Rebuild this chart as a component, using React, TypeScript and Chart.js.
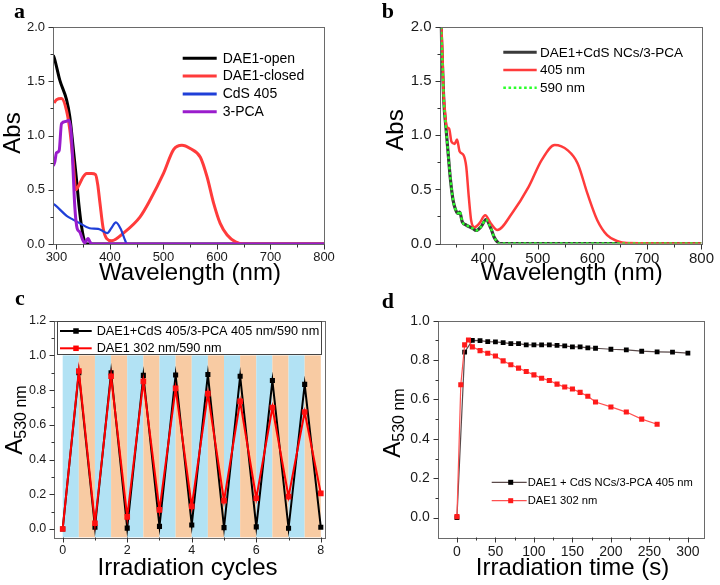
import React, { useEffect, useRef } from "react";
import { Chart, registerables } from "chart.js";
Chart.register(...registerables);

const FONT = "'Liberation Sans', Arial, Helvetica, sans-serif";
const SERIF = "'Liberation Serif', 'Times New Roman', serif";

// ---------- Panel a data ----------
const aOpenWl = [294, 296.8, 306.2, 318.8, 325, 331, 337.5, 342.4, 346.9, 353, 358.7, 800];
const aOpenAbs = [1.74, 1.7, 1.51, 1.33, 1.17, 0.9, 0.59, 0.34, 0.16, 0.02, 0, 0];
const aClosedWl = [295.5, 300, 309.4, 318.8, 325, 331, 336.2, 343.7, 350, 356.3, 365.7, 373, 377, 381.2, 387.4, 393.8, 403.2, 425, 456.3, 475, 500, 518.8, 534.5, 550, 568.9, 581.4, 593.8, 606, 619, 634.6, 650, 800];
const aClosedAbs = [1.3, 1.33, 1.34, 1.23, 1.05, 0.77, 0.5, 0.56, 0.62, 0.65, 0.65, 0.64, 0.55, 0.38, 0.14, 0.05, 0.03, 0.1, 0.25, 0.405, 0.65, 0.87, 0.91, 0.88, 0.8, 0.62, 0.375, 0.19, 0.083, 0.02, 0, 0];
const aCdsWl = [294, 297, 319, 331, 344, 362, 378, 395, 403, 411, 420, 427, 432, 800];
const aCdsAbs = [0.37, 0.36, 0.26, 0.225, 0.19, 0.145, 0.14, 0.1, 0.15, 0.2, 0.14, 0.05, 0, 0];
const aPcaWl = [294, 297, 300, 305, 309.4, 317.4, 323.6, 328, 331, 334.3, 338.6, 343.7, 348.8, 353, 357, 359.3, 362.5, 366, 800];
const aPcaAbs = [0.72, 0.76, 0.84, 0.86, 1.11, 1.13, 1.14, 0.99, 0.68, 0.34, 0.145, 0.11, 0.04, 0.01, 0.04, 0.05, 0.02, 0, 0];

// ---------- Panel b data ----------
const bInitWl = [322, 325.6, 328, 331.5, 335.7, 340, 344.7, 349.5, 353.7, 356.8, 361.6, 368.8, 380.7, 386.8, 395.9, 404.9, 414, 419.8, 425.8, 430, 800];
const bInitAbs = [2.1, 1.6, 1.29, 1.08, 0.83, 0.585, 0.4, 0.31, 0.277, 0.29, 0.2, 0.17, 0.14, 0.12, 0.155, 0.22, 0.14, 0.06, 0.015, 0, 0];
const b405Wl = [322.5, 325.6, 326.7, 329.7, 332.8, 337.5, 341.8, 347.7, 351.9, 356.8, 364, 368.8, 373.5, 377.8, 383.8, 392.8, 403.6, 413.9, 425.8, 452.8, 482.9, 507, 531, 555, 573, 591, 609, 627, 645, 663, 800];
const b405Abs = [2.1, 1.69, 1.45, 1.23, 1.08, 1.06, 0.94, 0.92, 0.96, 0.85, 0.815, 0.71, 0.43, 0.215, 0.15, 0.185, 0.26, 0.185, 0.125, 0.28, 0.52, 0.77, 0.91, 0.86, 0.74, 0.46, 0.215, 0.077, 0.024, 0.005, 0];
const b590Wl = [322, 325.6, 328, 331.5, 335.7, 340, 344.7, 349.5, 353.7, 356.8, 361.6, 368.8, 380.7, 386.8, 395.9, 404.9, 414, 419.8, 425.8, 430, 800];
const b590Abs = [2.1, 1.61, 1.3, 1.08, 0.83, 0.59, 0.4, 0.31, 0.28, 0.3, 0.2, 0.17, 0.14, 0.12, 0.155, 0.22, 0.14, 0.06, 0.015, 0, 0];

// ---------- Panel c data ----------
const cCycles = [0, 0.5, 1, 1.5, 2, 2.5, 3, 3.5, 4, 4.5, 5, 5.5, 6, 6.5, 7, 7.5, 8];
const cCdsPca = [0.0, 0.9, 0.01, 0.9, 0.005, 0.885, 0.015, 0.887, 0.023, 0.89, 0.008, 0.88, 0.012, 0.855, 0.004, 0.833, 0.01];
const cDae = [0.0, 0.91, 0.033, 0.88, 0.07, 0.85, 0.11, 0.81, 0.13, 0.78, 0.163, 0.735, 0.177, 0.7, 0.186, 0.674, 0.205];

// ---------- Panel d data ----------
const dTimeBlack = [0, 10, 20, 30, 40, 50, 60, 70, 80, 90, 100, 110, 120, 130, 140, 150, 160, 170, 180, 200, 220, 240, 260, 280, 300];
const dCdsPca = [0.0, 0.84, 0.9, 0.899, 0.894, 0.892, 0.889, 0.884, 0.884, 0.877, 0.877, 0.877, 0.877, 0.875, 0.872, 0.867, 0.867, 0.862, 0.86, 0.855, 0.852, 0.845, 0.842, 0.84, 0.835];
const dTimeRed = [0, 5, 10, 15, 20, 30, 40, 50, 60, 70, 80, 90, 100, 110, 120, 130, 140, 150, 160, 170, 180, 200, 220, 240, 260];
const dDae = [0.005, 0.675, 0.877, 0.902, 0.867, 0.848, 0.835, 0.821, 0.796, 0.776, 0.759, 0.742, 0.725, 0.708, 0.696, 0.678, 0.663, 0.653, 0.636, 0.616, 0.587, 0.562, 0.536, 0.5, 0.474];

// tick values
const aXMajor = [300, 400, 500, 600, 700, 800];
const aXMinor = [350, 450, 550, 650, 750];
const absMajor = [0, 0.5, 1, 1.5, 2];
const absMinor = [0.25, 0.75, 1.25, 1.75];
const bXMajor = [400, 500, 600, 700, 800];
const bXMinor = [350, 450, 550, 650, 750];
const cXMajor = [0, 2, 4, 6, 8];
const cXMinor = [1, 3, 5, 7];
const cYMajor = [0, 0.2, 0.4, 0.6, 0.8, 1.0, 1.2];
const cYMinor = [0.1, 0.3, 0.5, 0.7, 0.9, 1.1];
const dXMajor = [0, 50, 100, 150, 200, 250, 300];
const dXMinor = [25, 75, 125, 175, 225, 275];
const dYMajor = [0, 0.2, 0.4, 0.6, 0.8, 1.0];
const dYMinor = [0.1, 0.3, 0.5, 0.7, 0.9];

const pts = (xs: number[], ys: number[]) => xs.map((x, i) => ({ x, y: ys[i] }));

type LegendItem = { label: string; color: string; width: number; dash?: number[]; marker?: string };
type Panel = {
  left: number; top: number; w: number; h: number;
  area: { l: number; t: number; r: number; b: number };
  x: { min: number; max: number; majors: number[]; minors: number[]; dec: number; font: number; pad: number };
  y: { min: number; max: number; majors: number[]; minors: number[]; dec: number; font: number; pad: number };
  letter: { text: string; x: number; y: number };
  xTitle: { text: string; x: number; y: number };
  yTitle: { parts: { t: string; size: number; dy: number }[]; x: number; y: number };
  legend: { items: LegendItem[]; x0: number; x1: number; mx?: number; ms?: number; tx: number; ys: number[]; font: number; box?: [number, number, number, number] };
  bands?: boolean;
  datasets: any[];
};

const spectrum = (label: string, xs: number[], ys: number[], color: string, width: number, dash?: number[]) => ({
  label, data: pts(xs, ys), borderColor: color, borderWidth: width, borderDash: dash || [],
  pointRadius: 0, cubicInterpolationMode: "monotone", fill: false,
});
const markers = (label: string, xs: number[], ys: number[], line: string, mark: string, width: number, r: number) => ({
  label, data: pts(xs, ys), borderColor: line, borderWidth: width, pointStyle: "rect", pointRadius: r,
  pointBackgroundColor: mark, pointBorderColor: mark, pointBorderWidth: 0, tension: 0, fill: false,
});

const BLUE_BAND = "rgb(178, 226, 244)";
const ORANGE_BAND = "rgb(248, 203, 163)";
const GREEN = "#2bff2b";

const panels: Panel[] = [
  {
    left: 0, top: 0, w: 360, h: 290,
    area: { l: 53, t: 27, r: 324, b: 244 },
    x: { min: 293.5, max: 800, majors: aXMajor, minors: aXMinor, dec: 0, font: 13, pad: 6 },
    y: { min: 0, max: 2, majors: absMajor, minors: absMinor, dec: 1, font: 13, pad: 8 },
    letter: { text: "a", x: 14, y: 18 },
    xTitle: { text: "Wavelength (nm)", x: 190, y: 280 },
    yTitle: { parts: [{ t: "Abs", size: 24, dy: 0 }], x: 20, y: 133 },
    legend: {
      items: [
        { label: "DAE1-open", color: "#000000", width: 3 },
        { label: "DAE1-closed", color: "#ff3b3b", width: 3 },
        { label: "CdS 405", color: "#1f3fd8", width: 3 },
        { label: "3-PCA", color: "#9a1ccc", width: 3 },
      ],
      x0: 182.7, x1: 216.7, tx: 222.7, ys: [58.3, 76, 94, 111.7], font: 14,
    },
    datasets: [
      spectrum("DAE1-open", aOpenWl, aOpenAbs, "#000000", 3),
      spectrum("DAE1-closed", aClosedWl, aClosedAbs, "#ff3b3b", 3),
      spectrum("CdS 405", aCdsWl, aCdsAbs, "#1f3fd8", 2.2),
      spectrum("3-PCA", aPcaWl, aPcaAbs, "#9a1ccc", 3),
    ],
  },
  {
    left: 360, top: 0, w: 360, h: 290,
    area: { l: 79.6, t: 27, r: 347.3, b: 243.5 },
    x: { min: 320, max: 800, majors: bXMajor, minors: bXMinor, dec: 0, font: 15, pad: 6 },
    y: { min: 0, max: 2, majors: absMajor, minors: absMinor, dec: 1, font: 15, pad: 8 },
    letter: { text: "b", x: 21.7, y: 18.3 },
    xTitle: { text: "Wavelength (nm)", x: 211.7, y: 280 },
    yTitle: { parts: [{ t: "Abs", size: 24, dy: 0 }], x: 43.3, y: 130 },
    legend: {
      items: [
        { label: "DAE1+CdS NCs/3-PCA", color: "#3a3a3a", width: 3 },
        { label: "405 nm", color: "#ff3b3b", width: 2.5 },
        { label: "590 nm", color: GREEN, width: 2.6, dash: [2.6, 2.6] },
      ],
      x0: 143.3, x1: 176.7, tx: 180, ys: [52.3, 70, 87.7], font: 13.5,
    },
    datasets: [
      spectrum("DAE1+CdS NCs/3-PCA", bInitWl, bInitAbs, "#3a3a3a", 3.2),
      spectrum("405 nm", b405Wl, b405Abs, "#ff3b3b", 2.5),
      spectrum("590 nm", b590Wl, b590Abs, GREEN, 2.4, [2.6, 2.6]),
    ],
  },
  {
    left: 0, top: 290, w: 360, h: 295,
    area: { l: 54.3, t: 30.7, r: 325, b: 247.3 },
    x: { min: -0.26, max: 8.13, majors: cXMajor, minors: cXMinor, dec: 0, font: 12.5, pad: 6 },
    y: { min: -0.048, max: 1.2, majors: cYMajor, minors: cYMinor, dec: 1, font: 12.5, pad: 8 },
    letter: { text: "c", x: 15, y: 15 },
    xTitle: { text: "Irradiation cycles", x: 187.5, y: 285 },
    yTitle: { parts: [{ t: "A", size: 24, dy: 0 }, { t: "530 nm", size: 16, dy: 4 }], x: 21.7, y: 420 - 290 },
    legend: {
      items: [
        { label: "DAE1+CdS 405/3-PCA 405 nm/590 nm", color: "#000000", width: 2, marker: "#000000" },
        { label: "DAE1 302 nm/590 nm", color: "#ff0000", width: 2, marker: "#ff0000" },
      ],
      x0: 60, x1: 91.7, mx: 76, ms: 5.5, tx: 96.7, ys: [41, 58.3], font: 12.7,
      box: [57.3, 30.7, 321.7, 63.3],
    },
    bands: true,
    datasets: [
      markers("DAE1+CdS 405/3-PCA 405 nm/590 nm", cCycles, cCdsPca, "#000000", "#000000", 2, 3.6),
      markers("DAE1 302 nm/590 nm", cCycles, cDae, "#ff0000", "#ff1010", 2, 4.0),
    ],
  },
  {
    left: 360, top: 290, w: 360, h: 295,
    area: { l: 77.7, t: 30.7, r: 343.3, b: 247.3 },
    x: { min: -25, max: 320, majors: dXMajor, minors: dXMinor, dec: 0, font: 14, pad: 6 },
    y: { min: -0.1, max: 1.0, majors: dYMajor, minors: dYMinor, dec: 1, font: 14, pad: 8 },
    letter: { text: "d", x: 21.7, y: 18.3 },
    xTitle: { text: "Irradiation time (s)", x: 212.5, y: 285 },
    yTitle: { parts: [{ t: "A", size: 24, dy: 0 }, { t: "530 nm", size: 16, dy: 4 }], x: 40, y: 423 - 290 },
    legend: {
      items: [
        { label: "DAE1 + CdS NCs/3-PCA 405 nm", color: "#5a4a4a", width: 1.2, marker: "#000000" },
        { label: "DAE1 302 nm", color: "#ff5050", width: 1.2, marker: "#ff1a1a" },
      ],
      x0: 131.7, x1: 166.7, mx: 150.7, ms: 5, tx: 167.7, ys: [192.3, 210.7], font: 11.2,
    },
    datasets: [
      markers("DAE1 + CdS NCs/3-PCA 405 nm", dTimeBlack, dCdsPca, "#5a4a4a", "#000000", 1.2, 3.4),
      markers("DAE1 302 nm", dTimeRed, dDae, "#ff5050", "#ff1a1a", 1.2, 3.6),
    ],
  },
];

function makePlugin(p: Panel) {
  return {
    id: "decor",
    beforeDatasetsDraw(chart: any) {
      if (!p.bands) return;
      const ctx = chart.ctx;
      const xs = chart.scales.x;
      const ys = chart.scales.y;
      const a = chart.chartArea;
      ctx.save();
      for (let i = 0; i < 16; i++) {
        const x0 = xs.getPixelForValue(i * 0.5);
        const x1 = xs.getPixelForValue((i + 1) * 0.5);
        ctx.fillStyle = i % 2 === 0 ? BLUE_BAND : ORANGE_BAND;
        const yTop = ys.getPixelForValue(1.0);
        ctx.fillRect(x0, yTop, x1 - x0, a.bottom - yTop);
      }
      ctx.restore();
    },
    afterDraw(chart: any) {
      const ctx = chart.ctx;
      const a = chart.chartArea;
      const xs = chart.scales.x;
      const ys = chart.scales.y;
      ctx.save();
      // frame
      ctx.strokeStyle = "#6a6a6a";
      ctx.lineWidth = 1;
      ctx.strokeRect(Math.round(a.left) + 0.5, Math.round(a.top) + 0.5, Math.round(a.right - a.left), Math.round(a.bottom - a.top));
      // ticks
      ctx.strokeStyle = "#333";
      ctx.beginPath();
      const bottom = Math.round(a.bottom) + 0.5;
      const left = Math.round(a.left) + 0.5;
      for (const v of p.x.majors) { const px = Math.round(xs.getPixelForValue(v)) + 0.5; ctx.moveTo(px, bottom); ctx.lineTo(px, bottom + 5); }
      for (const v of p.x.minors) { const px = Math.round(xs.getPixelForValue(v)) + 0.5; ctx.moveTo(px, bottom); ctx.lineTo(px, bottom + 3); }
      for (const v of p.y.majors) { const py = Math.round(ys.getPixelForValue(v)) + 0.5; ctx.moveTo(left, py); ctx.lineTo(left - 5, py); }
      for (const v of p.y.minors) { const py = Math.round(ys.getPixelForValue(v)) + 0.5; ctx.moveTo(left, py); ctx.lineTo(left - 3, py); }
      ctx.stroke();
      // titles
      ctx.fillStyle = "#000";
      ctx.font = `24px ${FONT}`;
      ctx.textAlign = "center";
      ctx.textBaseline = "alphabetic";
      ctx.fillText(p.xTitle.text, p.xTitle.x, p.xTitle.y);
      // y title rotated
      ctx.save();
      ctx.translate(p.yTitle.x, p.yTitle.y);
      ctx.rotate(-Math.PI / 2);
      ctx.textAlign = "left";
      let total = 0;
      const widths = p.yTitle.parts.map((pt) => { ctx.font = `${pt.size}px ${FONT}`; const w = ctx.measureText(pt.t).width; total += w; return w; });
      let u = -total / 2;
      p.yTitle.parts.forEach((pt, i) => { ctx.font = `${pt.size}px ${FONT}`; ctx.fillText(pt.t, u, pt.dy); u += widths[i]; });
      ctx.restore();
      // letter
      ctx.font = `bold 22px ${SERIF}`;
      ctx.textAlign = "left";
      ctx.fillText(p.letter.text, p.letter.x, p.letter.y);
      // legend
      const L = p.legend;
      if (L.box) {
        const [x0, y0, x1, y1] = L.box;
        ctx.fillStyle = "#fff";
        ctx.fillRect(x0, y0, x1 - x0, y1 - y0);
        ctx.strokeStyle = "#444";
        ctx.lineWidth = 1;
        ctx.strokeRect(Math.round(x0) + 0.5, Math.round(y0) + 0.5, Math.round(x1 - x0), Math.round(y1 - y0));
      }
      L.items.forEach((it, i) => {
        const y = L.ys[i];
        ctx.strokeStyle = it.color;
        ctx.lineWidth = it.width;
        ctx.setLineDash(it.dash || []);
        ctx.beginPath();
        ctx.moveTo(L.x0, y);
        ctx.lineTo(L.x1, y);
        ctx.stroke();
        ctx.setLineDash([]);
        if (it.marker && L.mx !== undefined && L.ms) {
          ctx.fillStyle = it.marker;
          ctx.fillRect(L.mx - L.ms / 2, y - L.ms / 2, L.ms, L.ms);
        }
        ctx.fillStyle = "#000";
        ctx.font = `${L.font}px ${FONT}`;
        ctx.textBaseline = "middle";
        ctx.textAlign = "left";
        ctx.fillText(it.label, L.tx, y + 0.5);
      });
      ctx.restore();
    },
  };
}

function buildConfig(p: Panel): any {
  const axis = (ax: Panel["x"], isX: boolean) => ({
    type: "linear",
    min: ax.min,
    max: ax.max,
    afterBuildTicks: (s: any) => { s.ticks = ax.majors.map((v) => ({ value: v })); },
    afterFit: (s: any) => {
      if (isX) s.height = p.h - p.area.b; else s.width = p.area.l;
    },
    grid: { display: false, drawTicks: false, drawOnChartArea: false },
    border: { display: false },
    ticks: {
      autoSkip: false, maxRotation: 0, minRotation: 0, padding: ax.pad,
      color: "#1a1a1a", font: { family: FONT, size: ax.font },
      callback: (v: any) => Number(v).toFixed(ax.dec),
    },
  });
  // later datasets are drawn on top (as in the reference)
  const datasets = p.datasets.map((d, i) => ({ ...d, order: -i }));
  return {
    type: "line",
    data: { datasets },
    options: {
      responsive: false,
      animation: false,
      devicePixelRatio: 1,
      layout: { padding: { left: 0, top: p.area.t, right: p.w - p.area.r, bottom: 0 } },
      plugins: { legend: { display: false }, tooltip: { enabled: false }, title: { display: false } },
      scales: { x: axis(p.x, true), y: axis(p.y, false) },
    },
    plugins: [makePlugin(p)],
  };
}

function PanelChart({ p }: { p: Panel }) {
  const ref = useRef<HTMLCanvasElement | null>(null);
  useEffect(() => {
    if (!ref.current) return;
    const chart = new Chart(ref.current, buildConfig(p));
    return () => chart.destroy();
  }, [p]);
  return (
    <canvas
      ref={ref}
      width={p.w}
      height={p.h}
      style={{ position: "absolute", left: p.left, top: p.top, width: p.w, height: p.h, display: "block" }}
    />
  );
}

export default function App() {
  return (
    <div style={{ position: "absolute", left: 0, top: 0, width: 720, height: 585, background: "#fff", overflow: "hidden" }}>
      {panels.map((p, i) => (
        <PanelChart key={i} p={p} />
      ))}
    </div>
  );
}
